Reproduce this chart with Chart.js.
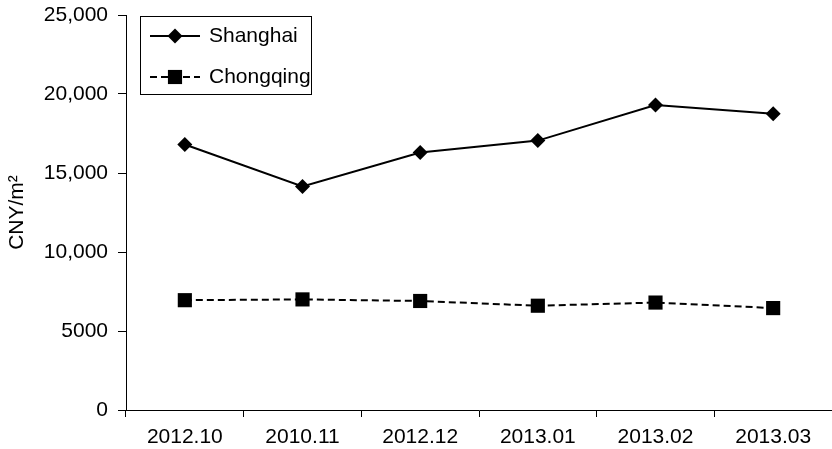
<!DOCTYPE html>
<html>
<head>
<meta charset="utf-8">
<script src="https://cdn.jsdelivr.net/npm/chart.js@4/dist/chart.umd.min.js"></script>
<style>
  html, body { margin: 0; padding: 0; background: #fff; }
  #wrap { width: 832px; height: 449px; }
</style>
</head>
<body>
<div id="wrap"><canvas id="c" width="832" height="449"></canvas></div>
<script>
// Monthly average new-home prices (CNY per square metre)
const categories = ['2012.10', '2010.11', '2012.12', '2013.01', '2013.02', '2013.03'];
const shanghai = [16800, 14150, 16300, 17050, 19300, 18750];
const chongqing = [6950, 7000, 6900, 6600, 6800, 6450];
const yTickLabels = ['0', '5000', '10,000', '15,000', '20,000', '25,000'];
const seriesNames = ['Shanghai', 'Chongqing'];

const FONT = "'Liberation Sans', Arial, Helvetica, sans-serif";
const FONT_SIZE = 21;

// Boxed legend with a short line sample and the marker centred on it
const boxedLegend = {
  id: 'boxedLegend',
  afterDraw(chart) {
    const ctx = chart.ctx;
    const box = { x: 140.5, y: 16.5, w: 171, h: 78 };
    ctx.save();
    ctx.lineWidth = 1;
    ctx.strokeStyle = '#000';
    ctx.setLineDash([]);
    ctx.strokeRect(box.x, box.y, box.w, box.h);
    chart.data.datasets.forEach((ds, i) => {
      const y = 36 + i * 41;
      ctx.save();
      ctx.strokeStyle = ds.borderColor;
      ctx.lineWidth = ds.borderWidth;
      ctx.setLineDash(ds.borderDash || []);
      ctx.beginPath();
      ctx.moveTo(150, y);
      ctx.lineTo(200, y);
      ctx.stroke();
      ctx.restore();
      ctx.save();
      ctx.fillStyle = ds.pointBackgroundColor;
      ctx.strokeStyle = ds.pointBorderColor;
      ctx.setLineDash([]);
      Chart.helpers.drawPoint(ctx, {
        pointStyle: ds.pointStyle,
        rotation: 0,
        radius: ds.pointRadius,
        borderWidth: 0
      }, 175, y);
      ctx.restore();
      ctx.fillStyle = '#000';
      ctx.font = FONT_SIZE + 'px ' + FONT;
      ctx.textAlign = 'left';
      ctx.textBaseline = 'middle';
      ctx.fillText(ds.label, 209, y);
    });
    ctx.restore();
  }
};

new Chart(document.getElementById('c'), {
  type: 'line',
  data: {
    labels: categories,
    datasets: [
      {
        label: seriesNames[0],
        data: shanghai,
        borderColor: '#000',
        borderWidth: 2,
        pointStyle: 'rectRot',
        pointRadius: 7.5,
        pointBackgroundColor: '#000',
        pointBorderColor: '#000',
        pointBorderWidth: 0,
        tension: 0,
        fill: false
      },
      {
        label: seriesNames[1],
        data: chongqing,
        borderColor: '#000',
        borderWidth: 2,
        borderDash: [7, 4],
        pointStyle: 'rect',
        pointRadius: 10,
        pointBackgroundColor: '#000',
        pointBorderColor: '#000',
        pointBorderWidth: 0,
        tension: 0,
        fill: false
      }
    ]
  },
  options: {
    responsive: false,
    animation: false,
    devicePixelRatio: 1,
    layout: { autoPadding: false, padding: { top: 15, right: 0, bottom: 0, left: 0 } },
    plugins: {
      legend: { display: false },
      tooltip: { enabled: false }
    },
    scales: {
      x: {
        type: 'category',
        offset: true,
        afterFit(scale) {
          scale.height = 39;
          scale.paddingLeft = 0;
          scale.paddingRight = 0;
        },
        grid: {
          offset: true,
          drawOnChartArea: false,
          drawTicks: true,
          tickLength: 7,
          color: '#000',
          lineWidth: 1
        },
        border: { display: true, color: '#000', width: 1 },
        ticks: {
          color: '#000',
          font: { family: FONT, size: FONT_SIZE },
          padding: 8,
          maxRotation: 0,
          autoSkip: false
        }
      },
      y: {
        min: 0,
        max: 25000,
        afterFit(scale) {
          scale.width = 126;
          scale.paddingTop = 0;
          scale.paddingBottom = 0;
        },
        grid: {
          drawOnChartArea: false,
          drawTicks: true,
          tickLength: 8,
          color: '#000',
          lineWidth: 1
        },
        border: { display: true, color: '#000', width: 1 },
        ticks: {
          stepSize: 5000,
          color: '#000',
          font: { family: FONT, size: FONT_SIZE },
          padding: 10,
          callback: (value, index) => yTickLabels[index]
        },
        title: {
          display: true,
          text: 'CNY/m\u00B2',
          color: '#000',
          font: { family: FONT, size: FONT_SIZE },
          padding: { top: 5, bottom: 0 }
        }
      }
    }
  },
  plugins: [boxedLegend]
});
</script>
</body>
</html>
